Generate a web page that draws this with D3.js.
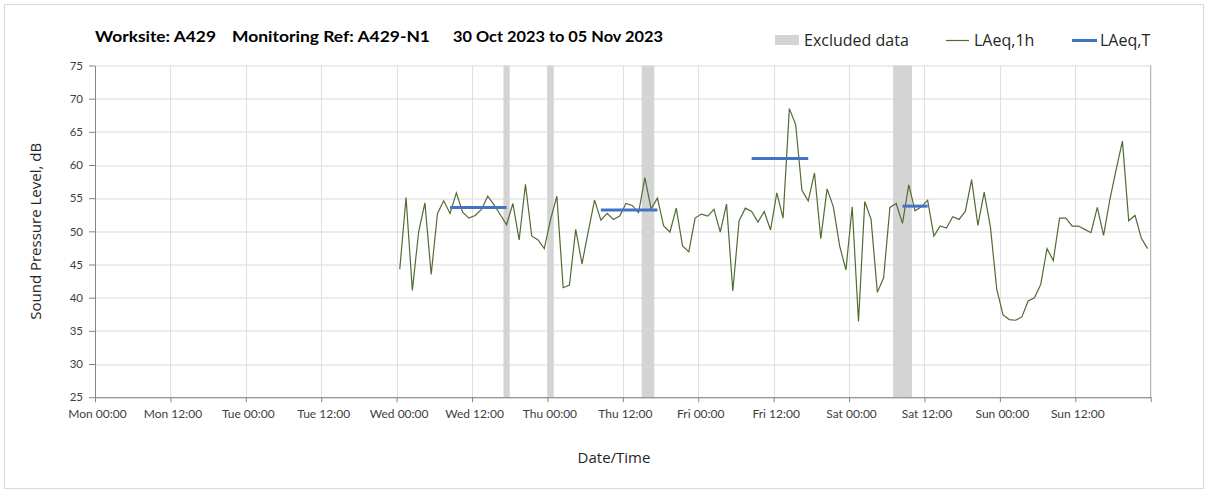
<!DOCTYPE html>
<html>
<head>
<meta charset="utf-8">
<script src="https://cdn.jsdelivr.net/npm/d3@7"></script>
<style>
  body { margin: 0; background: #ffffff; }
</style>
</head>
<body>
<div id="vis"></div>
<script>
// hourly LAeq,1h values, plotted mid-hour from Wed 00:30
const laeq1hStart = "2023-11-01 00:30"
const laeq1h = [
  44.3, 55.1, 41.1, 49.9, 54.3, 43.5, 52.7, 54.6, 52.7, 55.8, 52.9, 52.0,
  52.4, 53.3, 55.3, 54.0, 52.5, 51.0, 54.2, 48.7, 57.1, 49.3, 48.7, 47.4,
  51.8, 55.3, 41.5, 41.9, 50.3, 45.1, 50.0, 54.7, 51.7, 52.7, 51.8, 52.3,
  54.2, 53.9, 52.8, 58.1, 53.4, 55.0, 50.8, 49.9, 53.5, 47.8, 46.9, 52.0,
  52.6, 52.3, 53.3, 49.9, 54.1, 41.0, 51.6, 53.5, 53.0, 51.4, 53.0, 50.2,
  55.8, 52.0, 68.5, 66.1, 56.2, 54.6, 58.8, 48.9, 56.4, 53.7, 47.8, 44.2,
  53.7, 36.4, 54.5, 51.8, 40.8, 43.0, 53.6, 54.2, 51.2, 57.0, 53.1, 53.7,
  54.7, 49.3, 50.8, 50.5, 52.2, 51.8, 53.0, 57.8, 50.9, 55.9, 50.6, 41.3,
  37.4, 36.7, 36.6, 37.1, 39.5, 40.0, 42.0, 47.4, 45.6, 52.0, 52.0, 50.8,
  50.8, 50.3, 49.8, 53.6, 49.4, 54.8, 59.3, 63.6, 51.6, 52.4, 49.0, 47.4
]

// LAeq,T over working periods
const laeqTStart = ["2023-11-01 08:30", "2023-11-02 08:30", "2023-11-03 08:30", "2023-11-04 08:30"]
const laeqTEnd = ["2023-11-01 17:30", "2023-11-02 17:30", "2023-11-03 17:30", "2023-11-04 12:30"]
const laeqT = [53.6, 53.2, 61.0, 53.8]

// excluded data periods
const excludedStart = ["2023-11-01 17:00", "2023-11-02 00:00", "2023-11-02 15:00", "2023-11-04 07:00"]
const excludedEnd = ["2023-11-01 18:00", "2023-11-02 01:00", "2023-11-02 17:00", "2023-11-04 10:00"]

const yTicks = [25, 30, 35, 40, 45, 50, 55, 60, 65, 70, 75]
const titleParts = ["Worksite: A429", "Monitoring Ref: A429-N1", "30 Oct 2023 to 05 Nov 2023"]
const legendLabels = ["Excluded data", "LAeq,1h", "LAeq,T"]

const parse = d3.timeParse("%Y-%m-%d %H:%M")
const fmt = d3.timeFormat("%a %H:%M")
const tStart = parse("2023-10-30 00:00")
const tEnd = parse("2023-11-06 00:00")

const W = 1208, H = 493
var margin = { top: 65.5, right: 57.3, bottom: 95.8, left: 95 },
    width = W - margin.left - margin.right,
    height = H - margin.top - margin.bottom;

const font = "Lato, 'Open Sans', sans-serif"

var svg = d3.select("#vis")
  .append("svg")
    .attr("width", W)
    .attr("height", H)
    .style("font-family", font)

// outer chart border
svg.append("rect")
  .attr("x", 4.5).attr("y", 4.5)
  .attr("width", W - 9).attr("height", H - 9)
  .attr("fill", "#ffffff")
  .attr("stroke", "#d9d9d9")

var x = d3.scaleTime().domain([tStart, tEnd]).range([0, width])
var y = d3.scaleLinear().domain([25, 75]).range([height, 0])

var plot = svg.append("g")
  .attr("transform", "translate(" + margin.left + "," + margin.top + ")")

const xTicks = d3.timeHour.every(12).range(tStart, d3.timeHour.offset(tEnd, 1))

// gridlines
plot.append("g")
  .selectAll("line")
  .data(yTicks)
  .enter().append("line")
    .attr("x1", 0).attr("x2", width)
    .attr("y1", d => Math.round(y(d)) + 0.5).attr("y2", d => Math.round(y(d)) + 0.5)
    .attr("stroke", "#d9d9d9")
    .attr("stroke-width", 1.2)

plot.append("g")
  .selectAll("line")
  .data(xTicks.slice(1, -1))
  .enter().append("line")
    .attr("x1", d => Math.round(x(d)) + 0.5).attr("x2", d => Math.round(x(d)) + 0.5)
    .attr("y1", 0).attr("y2", height)
    .attr("stroke", "#e0e0e0")
    .attr("stroke-width", 1)

// excluded bands
plot.append("g")
  .selectAll("rect")
  .data(excludedStart.map((s, i) => ({ s: parse(s), e: parse(excludedEnd[i]) })))
  .enter().append("rect")
    .attr("x", d => x(d.s))
    .attr("width", d => x(d.e) - x(d.s))
    .attr("y", 0)
    .attr("height", height)
    .attr("fill", "#d4d4d4")

// axes
var xAxis = plot.append("g")
  .attr("transform", "translate(0," + height + ")")
  .call(d3.axisBottom(x)
    .tickValues(xTicks)
    .tickSize(5)
    .tickSizeOuter(0)
    .tickFormat(d => d < tEnd ? fmt(d) : ""))
xAxis.select(".domain").attr("stroke", "#868686")
xAxis.selectAll(".tick line").attr("stroke", "#868686")
xAxis.selectAll(".tick text")
  .attr("dy", "1.1em")
  .attr("dx", 2)
  .style("font-family", font)
  .style("font-size", "12px")
  .attr("fill", "#404040")

var yAxis = plot.append("g")
  .call(d3.axisLeft(y)
    .tickValues(yTicks)
    .tickSize(6)
    .tickSizeOuter(0))
yAxis.select(".domain").attr("stroke", "#868686")
yAxis.selectAll(".tick line").attr("stroke", "#868686")
yAxis.selectAll(".tick text")
  .attr("x", -12)
  .style("font-family", font)
  .style("font-size", "11.5px")
  .attr("fill", "#404040")

// right border
plot.append("line")
  .attr("x1", width).attr("x2", width)
  .attr("y1", 0).attr("y2", height)
  .attr("stroke", "#a6a6a6")

// LAeq,1h line
const t0 = parse(laeq1hStart)
var line = d3.line()
  .x((d, i) => x(d3.timeHour.offset(t0, i)))
  .y(d => y(d))

plot.append("path")
  .datum(laeq1h)
  .attr("d", line)
  .attr("fill", "none")
  .attr("stroke", "#526b34")
  .attr("stroke-width", 1.2)
  .attr("stroke-linejoin", "miter")

// LAeq,T segments
plot.append("g")
  .selectAll("line")
  .data(laeqT.map((v, i) => ({ s: parse(laeqTStart[i]), e: parse(laeqTEnd[i]), v: v })))
  .enter().append("line")
    .attr("x1", d => x(d.s)).attr("x2", d => x(d.e))
    .attr("y1", d => y(d.v)).attr("y2", d => y(d.v))
    .attr("stroke", "#4472c4")
    .attr("stroke-width", 3)

// title
var titleX = [95, 232, 453]
var titleW = [121, 198, 210]
svg.append("g")
  .selectAll("text")
  .data(titleParts)
  .enter().append("text")
    .attr("x", (d, i) => titleX[i])
    .attr("y", 42)
    .attr("textLength", (d, i) => titleW[i])
    .attr("lengthAdjust", "spacingAndGlyphs")
    .style("font-family", font)
    .style("font-weight", "bold")
    .style("font-size", "16px")
    .attr("fill", "#000000")
    .text(d => d)

// legend
var legend = svg.append("g")
legend.append("rect")
  .attr("x", 775).attr("y", 35)
  .attr("width", 24).attr("height", 10)
  .attr("fill", "#d4d4d4")
legend.append("line")
  .attr("x1", 946).attr("x2", 969)
  .attr("y1", 40.5).attr("y2", 40.5)
  .attr("stroke", "#526b34").attr("stroke-width", 1.2)
legend.append("line")
  .attr("x1", 1072).attr("x2", 1097)
  .attr("y1", 40.5).attr("y2", 40.5)
  .attr("stroke", "#4472c4").attr("stroke-width", 3)
var legendX = [804, 974, 1100]
legend.selectAll("text")
  .data(legendLabels)
  .enter().append("text")
    .attr("x", (d, i) => legendX[i])
    .attr("y", 46)
    .style("font-family", "'Open Sans', sans-serif")
    .style("font-size", "16px")
    .attr("fill", "#262626")
    .text(d => d)

// axis titles
svg.append("text")
  .attr("transform", "translate(41," + (margin.top + height / 2) + ") rotate(-90)")
  .attr("text-anchor", "middle")
  .style("font-family", "'Open Sans', sans-serif")
  .style("font-size", "15px")
  .attr("fill", "#262626")
  .text("Sound Pressure Level, dB")

svg.append("text")
  .attr("x", 614)
  .attr("y", 463)
  .attr("text-anchor", "middle")
  .style("font-family", "'Open Sans', sans-serif")
  .style("font-size", "15px")
  .attr("fill", "#262626")
  .text("Date/Time")
</script>
</body>
</html>
